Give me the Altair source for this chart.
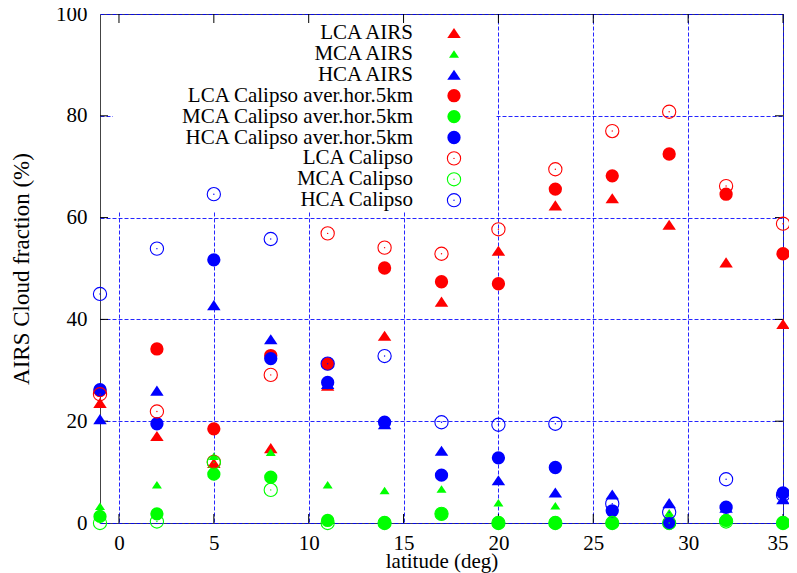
import altair as alt
import pandas as pd

# ---------------- data ----------------
lat = [-1, 2, 5, 8, 11, 14, 17, 20, 23, 26, 29, 32, 35]

lca_airs = [23.6, 17.1, 11.8, 14.7, 27.0, 36.8, 43.5, 53.5, 62.4, 63.8, 58.6, 51.2, 39.1]
mca_airs = [3.3, 7.5, 13.1, 13.9, 7.5, 6.4, 6.7, 4.0, 3.4, 0.5, 2.0, 0.5, 0.5]
hca_airs = [20.4, 26.0, 42.8, 36.1, 27.3, 19.4, 14.2, 8.4, 6.0, 5.6, 3.9, 3.0, 4.7]

lca_avg = [26.0, 34.2, 18.5, 32.9, 31.3, 50.1, 47.4, 47.0, 65.6, 68.2, 72.5, 64.6, 52.9]
mca_avg = [1.3, 1.8, 9.6, 9.0, 0.5, 0.0, 1.8, 0.0, 0.0, 0.0, 0.0, 0.5, 0.0]
hca_avg = [26.2, 19.5, 51.7, 32.3, 27.6, 19.8, 9.4, 12.8, 10.9, 2.4, 0.0, 3.1, 5.9]

lca_cal = [25.3, 21.9, 12.0, 29.1, 56.9, 54.1, 52.9, 57.7, 69.5, 77.0, 80.8, 66.2, 58.8]
mca_cal = [0.0, 0.3, 11.9, 6.5, 0.0, 0.0, 1.8, 0.0, 0.0, 0.0, 0.0, 0.3, 0.0]
hca_cal = [45.0, 53.9, 64.6, 55.8, 31.3, 32.8, 19.8, 19.3, 19.5, 3.8, 2.1, 8.6, 5.5]

series_names = [
    "LCA AIRS", "MCA AIRS", "HCA AIRS",
    "LCA Calipso aver.hor.5km", "MCA Calipso aver.hor.5km", "HCA Calipso aver.hor.5km",
    "LCA Calipso", "MCA Calipso", "HCA Calipso",
]
series_values = [lca_airs, mca_airs, hca_airs, lca_avg, mca_avg, hca_avg,
                 lca_cal, mca_cal, hca_cal]
legend_labels = ["LCA AIRS\u00a0", "MCA AIRS", "HCA AIRS",
                 "LCA Calipso aver.hor.5km", "MCA Calipso aver.hor.5km",
                 "HCA Calipso aver.hor.5km", "LCA Calipso", "MCA Calipso", "HCA Calipso"]

x_ticks = [0, 5, 10, 15, 20, 25, 30, 35]
y_ticks = [0, 20, 40, 60, 80, 100]

# ---------------- styles ----------------
FONT = "Liberation Serif"
FS = 21
W, H = 683, 509
RED, GREEN, BLUE = "#ff0000", "#00ff00", "#0000ff"
TRI = "M-1,0.75L1,0.75L0,-0.75Z"
styles = [
    dict(color=RED, shape=TRI, filled=True, size=182),
    dict(color=GREEN, shape=TRI, filled=True, size=100),
    dict(color=BLUE, shape=TRI, filled=True, size=182),
    dict(color=RED, shape="circle", filled=True, size=177),
    dict(color=GREEN, shape="circle", filled=True, size=177),
    dict(color=BLUE, shape="circle", filled=True, size=177),
    dict(color=RED, shape="circle", filled=False, size=175),
    dict(color=GREEN, shape="circle", filled=False, size=175),
    dict(color=BLUE, shape="circle", filled=False, size=175),
]

rows = []
for name, vals in zip(series_names, series_values):
    for la, v in zip(lat, vals):
        rows.append({"series": name, "lat": la, "val": v})
df = pd.DataFrame(rows)

legend_df = pd.DataFrame({"label": legend_labels, "series": series_names,
                          "row": list(range(len(legend_labels)))})

xscale = alt.Scale(domain=[-1, 35], nice=False, zero=False)
yscale = alt.Scale(domain=[0, 100], nice=False, zero=False)

xaxis = alt.Axis(values=x_ticks, title="latitude (deg)", grid=True, gridColor=BLUE,
                 gridDash=[4, 2], gridWidth=1, gridOpacity=0.85, domain=False, ticks=True,
                 tickSize=0, tickWidth=0, labelPadding=9, labelFont=FONT,
                 labelFontSize=FS, labelColor="black", labelFlush=True,
                 labelFlushOffset=5, labelOverlap=False, titleFont=FONT,
                 titleFontSize=FS, titleFontWeight="normal", titleColor="black",
                 titleY=44, titleBaseline="alphabetic", format="d")
yaxis = alt.Axis(values=y_ticks, title="AIRS Cloud fraction (%)", grid=True,
                 gridColor=BLUE, gridDash=[4, 2], gridWidth=1, gridOpacity=0.85,
                 domain=False, ticks=True, tickSize=0, tickWidth=0, labelPadding=13,
                 labelFont=FONT, labelFontSize=FS, labelColor="black",
                 labelOverlap=False, titleFont=FONT, titleFontSize=23,
                 titleFontWeight="normal", titleColor="black", titleAngle=270,
                 titleX=-79, titleY=H / 2, titleAlign="center",
                 titleBaseline="middle", format="d")


def X(field):
    return alt.X(f"{field}:Q", scale=xscale, axis=xaxis)


def Y(field):
    return alt.Y(f"{field}:Q", scale=yscale, axis=yaxis)


layers = []

# opaque key box (hides grid behind the key)
box = alt.Chart(pd.DataFrame({"k": [0]})).mark_rect(color="white").encode(
    x=alt.value(13), x2=alt.value(396), y=alt.value(1), y2=alt.value(198))
layers.append(box)

# inward ticks
xt = pd.DataFrame({"t": x_ticks})
yt = pd.DataFrame({"t": y_ticks[1:-1]})
layers.append(alt.Chart(xt).mark_rule(color="black", strokeWidth=1).encode(
    x=X("t"), y=alt.value(H), y2=alt.value(H - 9)))
layers.append(alt.Chart(xt).mark_rule(color="black", strokeWidth=1).encode(
    x=X("t"), y=alt.value(0), y2=alt.value(9)))
layers.append(alt.Chart(yt).mark_rule(color="black", strokeWidth=1).encode(
    y=Y("t"), x=alt.value(0), x2=alt.value(8)))
layers.append(alt.Chart(yt).mark_rule(color="black", strokeWidth=1).encode(
    y=Y("t"), x=alt.value(W - 8), x2=alt.value(W)))

# data series in plotting order
for name, st in zip(series_names, styles):
    base = alt.Chart(df).transform_filter(alt.datum.series == name)
    layers.append(base.mark_point(shape=st["shape"], filled=st["filled"],
                                  size=st["size"], color=st["color"], opacity=1,
                                  strokeWidth=1.1).encode(x=X("lat"), y=Y("val")))
    if not st["filled"]:
        layers.append(base.mark_point(shape="circle", filled=True, size=2,
                                      color=st["color"], opacity=1).encode(
            x=X("lat"), y=Y("val")))

# key
key_base = alt.Chart(legend_df).transform_calculate(py="19 + datum.row * 20.9")
layers.append(key_base.mark_text(align="right", baseline="middle", font=FONT,
                                 fontSize=FS, color="black").encode(
    x=alt.value(313), y=alt.Y("py:Q", scale=None), text="label:N"))
for name, st in zip(series_names, styles):
    kb = key_base.transform_filter(alt.datum.series == name)
    layers.append(kb.mark_point(shape=st["shape"], filled=st["filled"], size=st["size"],
                                color=st["color"], opacity=1, strokeWidth=1.1).encode(
        x=alt.value(354), y=alt.Y("py:Q", scale=None)))
    if not st["filled"]:
        layers.append(kb.mark_point(shape="circle", filled=True, size=2,
                                    color=st["color"], opacity=1).encode(
            x=alt.value(354), y=alt.Y("py:Q", scale=None)))

chart = alt.layer(*layers).properties(
    width=W, height=H,
    autosize=alt.AutoSizeParams(type="none"),
    padding={"left": 92, "top": 6, "right": 6, "bottom": 50},
    background="white",
).configure_view(stroke="#444444", strokeWidth=1)

chart.save("out.html", embed_options={"renderer": "svg", "actions": False})
